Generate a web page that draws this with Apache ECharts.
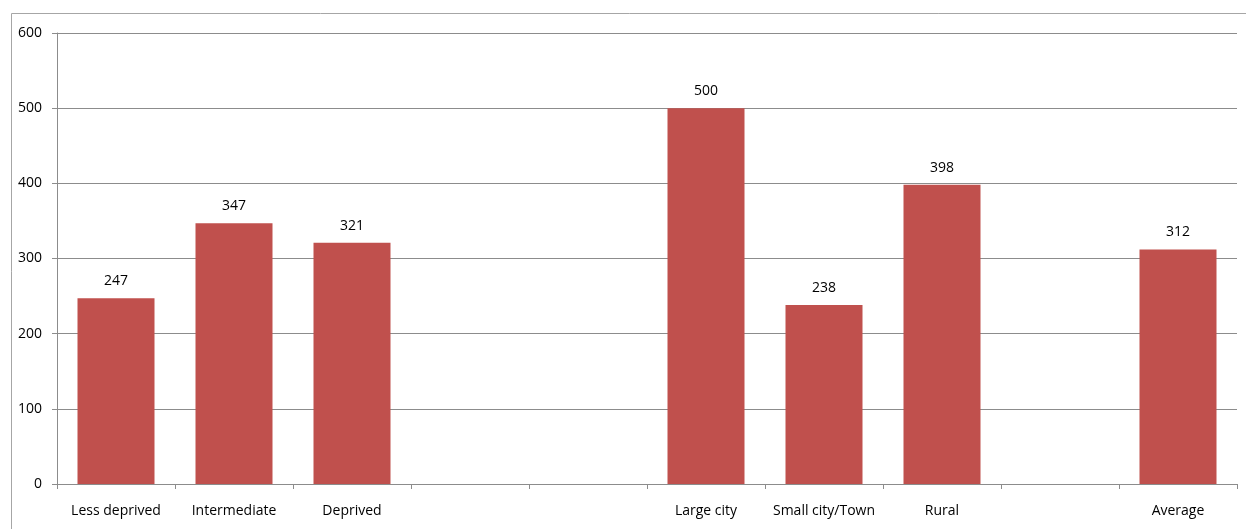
<!DOCTYPE html>
<html>
<head>
<meta charset="utf-8">
<script src="https://cdn.jsdelivr.net/npm/echarts@6/dist/echarts.min.js"></script>
<style>
  html, body { margin: 0; padding: 0; background: #fff; }
  #chart { width: 1246px; height: 529px; }
</style>
</head>
<body>
<div id="chart"></div>
<script>
// Categories (blank slots separate the groups)
const categories = ['Less deprived', 'Intermediate', 'Deprived', '', '', 'Large city', 'Small city/Town', 'Rural', '', 'Average'];
// Values per category; null where the slot is empty
const values = [247, 347, 321, null, null, 500, 238, 398, null, 312];
// Value axis range
const yMin = 0, yMax = 600, yStep = 100;

const font = '"Open Sans", Arial, sans-serif';
const gridColor = '#8c8c8c';

const chart = echarts.init(document.getElementById('chart'), null, { renderer: 'canvas' });
chart.setOption({
  animation: false,
  backgroundColor: '#ffffff',
  textStyle: { fontFamily: font },
  graphic: [{
    type: 'rect',
    shape: { x: 11.5, y: 13.5, width: 1300, height: 600 },
    style: { fill: 'none', stroke: '#a6a6a6', lineWidth: 1 },
    silent: true,
    z: -1
  }],
  grid: { left: 57, right: 9, top: 33, bottom: 45, containLabel: false },
  xAxis: {
    type: 'category',
    data: categories,
    axisLine: { show: true, lineStyle: { color: gridColor, width: 1 } },
    axisTick: { show: true, alignWithLabel: false, length: 5, lineStyle: { color: gridColor } },
    axisLabel: { color: '#000', fontSize: 14, fontFamily: font, margin: 20, interval: 0 },
    splitLine: { show: false }
  },
  yAxis: {
    type: 'value',
    min: yMin, max: yMax, interval: yStep,
    axisLine: { show: true, lineStyle: { color: gridColor, width: 1 } },
    axisTick: { show: true, length: 5, lineStyle: { color: gridColor } },
    axisLabel: { color: '#000', fontSize: 14, fontFamily: font, margin: 15 },
    splitLine: { show: true, lineStyle: { color: gridColor, width: 1 } }
  },
  series: [{
    type: 'bar',
    data: values,
    barWidth: 77,
    itemStyle: { color: '#C0504D' },
    label: {
      show: true,
      position: 'top',
      distance: 10,
      color: '#000',
      fontSize: 14,
      fontFamily: font
    }
  }]
});
</script>
</body>
</html>
